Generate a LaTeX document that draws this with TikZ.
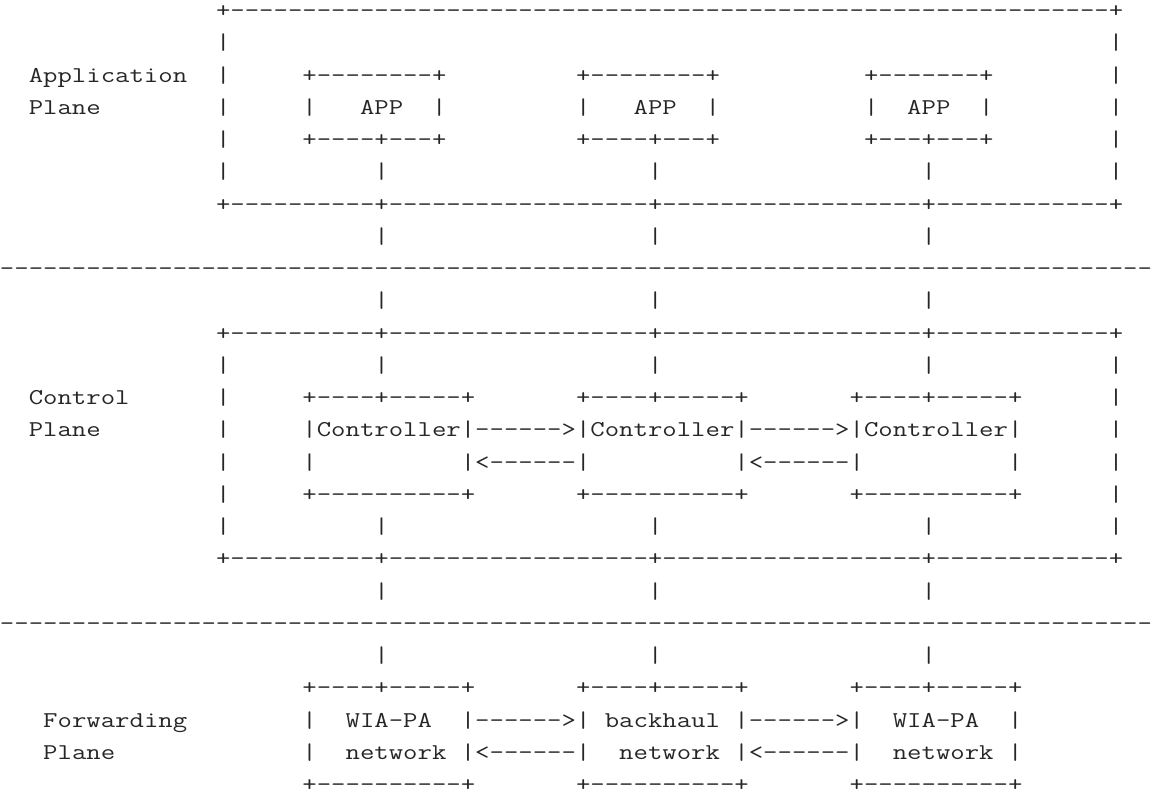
\documentclass[tikz,border=0pt]{standalone}
\usepackage{graphicx}
\newlength\chw
\newcommand\asciifont{\fontsize{11.3}{11.3}\selectfont\ttfamily}
\newcommand\dsh[1]{\foreach\dshi in {1,...,#1}{-\kern0pt}}
\newcommand\seg[3]{\node[asc] (r#1c#2) at (#2,#1+0.546) {\scalebox{\sx}[1]{#3}};}
\AtBeginDocument{\settowidth{\chw}{\asciifont M}\pgfmathsetmacro\sx{7.2/\chw}\global\let\sx\sx}
\begin{document}
\begin{tikzpicture}[x=7.2pt,y=-16.125pt,
  asc/.style={anchor=base west,inner sep=0pt,outer sep=0pt,font=\asciifont,text=black!85}]
\useasboundingbox (0,0) rectangle (80.5556,24.4341);
\clip (0,0) rectangle (80.5556,24.4341);
% application plane
\seg{0}{15}{+\dsh{61}+}
\seg{1}{15}{|}\seg{1}{77}{|}
\seg{2}{2}{Application}\seg{2}{15}{|}\seg{2}{21}{+\dsh{8}+}\seg{2}{40}{+\dsh{8}+}\seg{2}{60}{+\dsh{7}+}\seg{2}{77}{|}
\seg{3}{2}{Plane}\seg{3}{15}{|}\seg{3}{21}{|}\seg{3}{25}{APP}\seg{3}{30}{|}\seg{3}{40}{|}\seg{3}{44}{APP}\seg{3}{49}{|}\seg{3}{60}{|}\seg{3}{63}{APP}\seg{3}{68}{|}\seg{3}{77}{|}
\seg{4}{15}{|}\seg{4}{21}{+\dsh{4}+\dsh{3}+}\seg{4}{40}{+\dsh{4}+\dsh{3}+}\seg{4}{60}{+\dsh{3}+\dsh{3}+}\seg{4}{77}{|}
\foreach \r in {5,11,16}{\foreach \c in {15,26,45,64,77}{\seg{\r}{\c}{|}}}
\foreach \r in {6,10,17}{\seg{\r}{15}{+\dsh{10}+\dsh{18}+\dsh{18}+\dsh{12}+}}
\foreach \r in {7,9,18,20}{\foreach \c in {26,45,64}{\seg{\r}{\c}{|}}}
\foreach \r in {8,19}{\seg{\r}{0}{\dsh{80}}}
% control plane
\seg{12}{2}{Control}\seg{12}{15}{|}\seg{12}{21}{+\dsh{4}+\dsh{5}+}\seg{12}{40}{+\dsh{4}+\dsh{5}+}\seg{12}{59}{+\dsh{4}+\dsh{5}+}\seg{12}{77}{|}
\seg{13}{2}{Plane}\seg{13}{15}{|}\seg{13}{21}{|Controller|\dsh{6}>|Controller|\dsh{6}>|Controller|}\seg{13}{77}{|}
\seg{14}{15}{|}\seg{14}{21}{|}\seg{14}{32}{|<\dsh{6}|}\seg{14}{51}{|<\dsh{6}|}\seg{14}{70}{|}\seg{14}{77}{|}
\seg{15}{15}{|}\seg{15}{21}{+\dsh{10}+}\seg{15}{40}{+\dsh{10}+}\seg{15}{59}{+\dsh{10}+}\seg{15}{77}{|}
% forwarding plane
\seg{21}{21}{+\dsh{4}+\dsh{5}+}\seg{21}{40}{+\dsh{4}+\dsh{5}+}\seg{21}{59}{+\dsh{4}+\dsh{5}+}
\seg{22}{3}{Forwarding}\seg{22}{21}{|}\seg{22}{24}{WIA-PA}\seg{22}{32}{|\dsh{6}>|}\seg{22}{42}{backhaul}\seg{22}{51}{|\dsh{6}>|}\seg{22}{62}{WIA-PA}\seg{22}{70}{|}
\seg{23}{3}{Plane}\seg{23}{21}{|}\seg{23}{24}{network}\seg{23}{32}{|<\dsh{6}|}\seg{23}{43}{network}\seg{23}{51}{|<\dsh{6}|}\seg{23}{62}{network}\seg{23}{70}{|}
\seg{24}{21}{+\dsh{10}+}\seg{24}{40}{+\dsh{10}+}\seg{24}{59}{+\dsh{10}+}
\end{tikzpicture}
\end{document}
